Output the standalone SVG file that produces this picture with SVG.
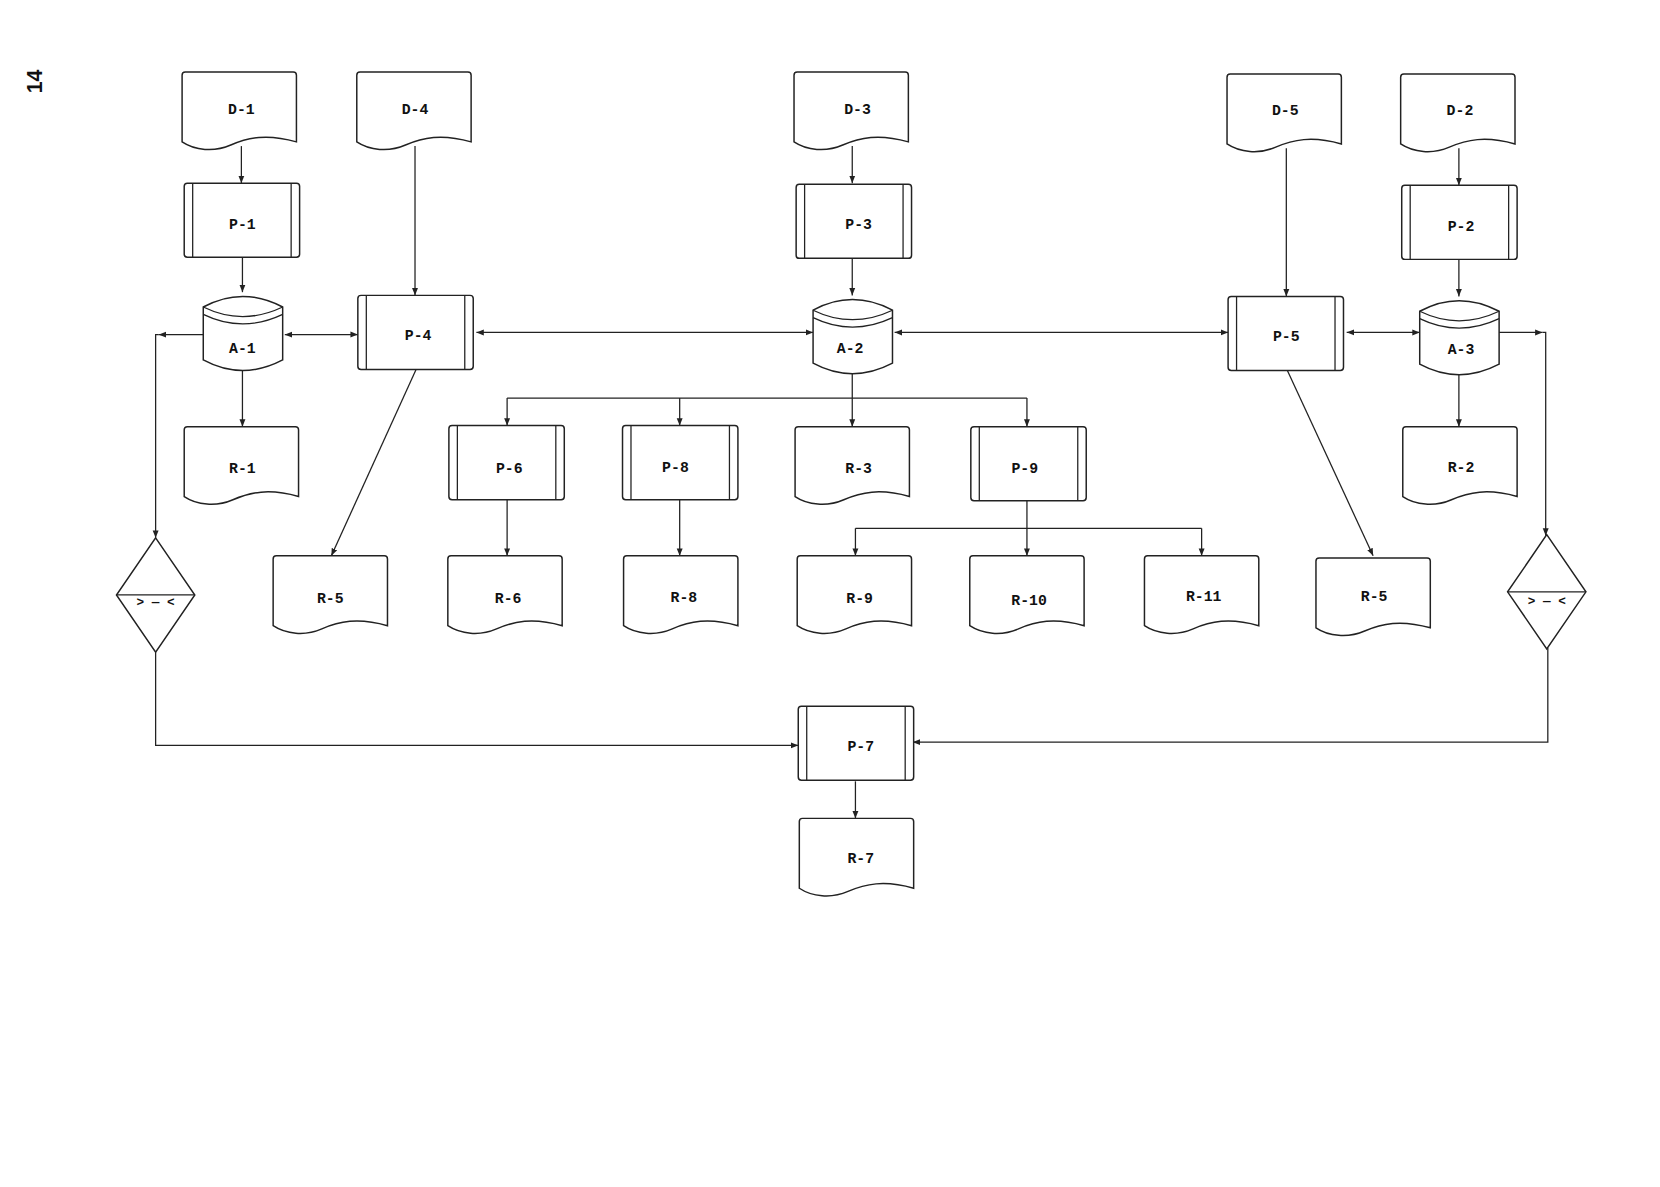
<svg xmlns="http://www.w3.org/2000/svg" xmlns:xlink="http://www.w3.org/1999/xlink" width="1660" height="1187" viewBox="0 0 1660 1187">
<style>
.s{fill:#fff;stroke:#222;stroke-width:1.4}
.l{fill:none;stroke:#222;stroke-width:1.2}
text{font-family:"Liberation Mono",monospace;font-weight:bold;font-size:14px;fill:#111;text-anchor:middle}
</style>
<defs>
<marker id="a" viewBox="0 0 10 10" refX="10" refY="5" markerWidth="7" markerHeight="7" orient="auto-start-reverse" markerUnits="userSpaceOnUse"><path d="M0,1 L10,5 L0,9 Z" fill="#222"/></marker>
<symbol id="doc" overflow="visible"><path class="s" d="M3,0 H105 Q108,0 108,3 V66 C80,58 62,62 46,69 C30,76 12,74 0,66 V3 Q0,0 3,0 Z"/></symbol>
<symbol id="proc" overflow="visible"><rect class="s" x="0" y="0" width="109" height="70" rx="3"/><path class="l" d="M8,0 V70 M101,0 V70"/></symbol>
<symbol id="cyl" overflow="visible"><path class="s" d="M0,12 Q37,-8 75,12 V62 Q37,82 0,62 Z"/><path class="l" d="M0,12 Q37,30 75,12 M0,19 Q37,37 75,19"/></symbol>
<symbol id="dia" overflow="visible"><polygon class="s" points="37,0 74,54 37,108 0,54"/><path class="l" d="M0,54 H74"/></symbol>
</defs>
<rect width="1660" height="1187" fill="#fff"/>
<g transform="scale(1.0587)">
<text x="40" y="77" transform="rotate(-90 40 77)" style="font-family:'Liberation Sans',sans-serif;font-weight:bold;font-size:20px">14</text>
<g id="connectors" class="l" marker-end="url(#a)">
<path d="M228,138 V173"/><path d="M229,243 V276"/><path d="M229,350 V403"/>
<path d="M392,138 V279"/>
<path d="M269,316 H338" marker-start="url(#a)"/>
<path d="M450,314 H768" marker-start="url(#a)"/>
<path d="M845,314 H1160" marker-start="url(#a)"/>
<path d="M1272,314 H1341" marker-start="url(#a)"/>
<path d="M192,316 H150" marker-end="url(#a)"/>
<path d="M150,316 H147 V508"/>
<path d="M147,616 V704 H754"/>
<path d="M1415,314 H1457"/>
<path d="M1457,314 H1460 V506"/>
<path d="M1462,612 V701 H862"/>
<path d="M808,738 V773"/>
<path d="M805,138 V173"/><path d="M805,244 V279"/><path d="M805,352 V403"/>
<path d="M479,376 H970" marker-end="none"/>
<path d="M479,376 V402"/><path d="M642,376 V402"/><path d="M970,376 V403"/>
<path d="M479,472 V525"/><path d="M642,472 V525"/>
<path d="M970,473 V525"/>
<path d="M808,499 H1135" marker-end="none"/>
<path d="M808,499 V525"/><path d="M1135,499 V525"/>
<path d="M393,349 L313,525"/>
<path d="M1216,350 L1297,525"/>
<path d="M1215,140 V280"/><path d="M1378,140 V175"/><path d="M1378,245 V280"/><path d="M1378,352 V403"/>
</g>
<g id="D-1"><use href="#doc" x="172" y="68"/><text x="228" y="108">D-1</text></g>
<g id="D-4"><use href="#doc" x="337" y="68"/><text x="392" y="108">D-4</text></g>
<g id="D-3"><use href="#doc" x="750" y="68"/><text x="810" y="108">D-3</text></g>
<g id="D-5"><use href="#doc" x="1159" y="70"/><text x="1214" y="109">D-5</text></g>
<g id="D-2"><use href="#doc" x="1323" y="70"/><text x="1379" y="109">D-2</text></g>
<g id="P-1"><use href="#proc" x="174" y="173"/><text x="229" y="216">P-1</text></g>
<g id="P-3"><use href="#proc" x="752" y="174"/><text x="811" y="216">P-3</text></g>
<g id="P-2"><use href="#proc" x="1324" y="175"/><text x="1380" y="218">P-2</text></g>
<g id="P-4"><use href="#proc" x="338" y="279"/><text x="395" y="321">P-4</text></g>
<g id="P-5"><use href="#proc" x="1160" y="280"/><text x="1215" y="322">P-5</text></g>
<g id="A-1"><use href="#cyl" x="192" y="278"/><text x="229" y="333">A-1</text></g>
<g id="A-2"><use href="#cyl" x="768" y="281"/><text x="803" y="333">A-2</text></g>
<g id="A-3"><use href="#cyl" x="1341" y="282"/><text x="1380" y="334">A-3</text></g>
<g id="R-1"><use href="#doc" x="174" y="403"/><text x="229" y="447">R-1</text></g>
<g id="P-6"><use href="#proc" x="424" y="402"/><text x="481" y="447">P-6</text></g>
<g id="P-8"><use href="#proc" x="588" y="402"/><text x="638" y="446">P-8</text></g>
<g id="R-3"><use href="#doc" x="751" y="403"/><text x="811" y="447">R-3</text></g>
<g id="P-9"><use href="#proc" x="917" y="403"/><text x="968" y="447">P-9</text></g>
<g id="R-2"><use href="#doc" x="1325" y="403"/><text x="1380" y="446">R-2</text></g>
<g id="R-5a"><use href="#doc" x="258" y="525"/><text x="312" y="570">R-5</text></g>
<g id="R-6"><use href="#doc" x="423" y="525"/><text x="480" y="570">R-6</text></g>
<g id="R-8"><use href="#doc" x="589" y="525"/><text x="646" y="569">R-8</text></g>
<g id="R-9"><use href="#doc" x="753" y="525"/><text x="812" y="570">R-9</text></g>
<g id="R-10"><use href="#doc" x="916" y="525"/><text x="972" y="571">R-10</text></g>
<g id="R-11"><use href="#doc" x="1081" y="525"/><text x="1137" y="568">R-11</text></g>
<g id="R-5b"><use href="#doc" x="1243" y="527"/><text x="1298" y="568">R-5</text></g>
<g id="C-1"><use href="#dia" x="110" y="508"/><text x="147" y="572" style="font-size:12px">&gt; — &lt;</text></g>
<g id="C-2"><use href="#dia" x="1424" y="505"/><text x="1461" y="571" style="font-size:12px">&gt; — &lt;</text></g>
<g id="P-7"><use href="#proc" x="754" y="667"/><text x="813" y="709">P-7</text></g>
<g id="R-7"><use href="#doc" x="755" y="773"/><text x="813" y="815">R-7</text></g>
</g>
</svg>
